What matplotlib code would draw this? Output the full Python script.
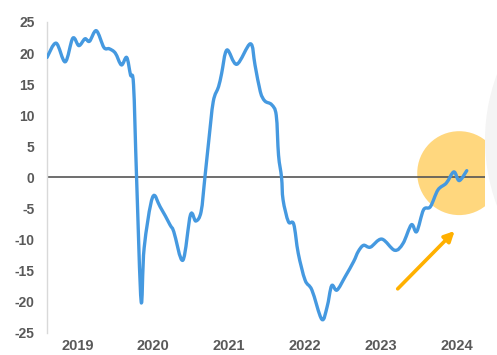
import matplotlib

matplotlib.use("Agg")
import matplotlib.pyplot as plt
from matplotlib.patches import Ellipse, PathPatch
from matplotlib.path import Path

# series (x in decimal years)
years = [
    2019.10, 2019.22, 2019.34, 2019.44, 2019.52, 2019.60, 2019.66, 2019.75,
    2019.85, 2019.92, 2020.00, 2020.08, 2020.15, 2020.20, 2020.24, 2020.28,
    2020.34, 2020.38, 2020.49, 2020.59, 2020.72, 2020.77, 2020.89, 2020.99,
    2021.06, 2021.13, 2021.18, 2021.23, 2021.29, 2021.36, 2021.40, 2021.47,
    2021.60, 2021.78, 2021.84, 2021.91, 2021.97, 2022.06, 2022.12, 2022.15,
    2022.19, 2022.21, 2022.28, 2022.35, 2022.41, 2022.50, 2022.59, 2022.72,
    2022.79, 2022.85, 2022.92, 2023.03, 2023.14, 2023.20, 2023.27, 2023.36,
    2023.51, 2023.68, 2023.79, 2023.90, 2023.97, 2024.06, 2024.15, 2024.25,
    2024.36, 2024.46, 2024.53, 2024.63,
]
values = [
    19.3, 21.6, 18.6, 22.4, 21.2, 22.3, 21.9, 23.6,
    20.9, 20.7, 20.0, 18.1, 19.3, 16.5, 14.9, 0.0,
    -19.9, -11.3, -3.2, -4.7, -7.6, -8.7, -13.3, -6.0,
    -7.0, -5.5, 0.0, 5.8, 12.2, 14.6, 16.7, 20.5,
    18.2, 21.5, 18.1, 13.8, 12.3, 11.7, 10.0, 3.6,
    0.0, -3.6, -7.1, -7.5, -12.2, -16.5, -18.1, -22.8,
    -20.8, -17.4, -18.1, -15.9, -13.5, -11.9, -10.9, -11.2,
    -9.9, -11.7, -10.6, -7.6, -8.7, -5.2, -4.7, -2.0,
    -0.9, 0.9, -0.5, 1.1,
]
year_labels = ["2019", "2020", "2021", "2022", "2023", "2024"]
y_ticks = [25, 20, 15, 10, 5, 0, -5, -10, -15, -20, -25]

BLUE = "#4599e0"
TEXT = "#595959"
HIGHLIGHT = "#ffd77e"
ARROW = "#ffb000"


def smooth_path(xs, ys, k=1 / 6):
    """Excel-style smoothed line as cubic Bezier segments through the points."""
    verts = [(xs[0], ys[0])]
    codes = [Path.MOVETO]
    n = len(xs)
    for i in range(n - 1):
        x0, y0 = (xs[i - 1], ys[i - 1]) if i > 0 else (xs[i], ys[i])
        x3, y3 = (xs[i + 2], ys[i + 2]) if i + 2 < n else (xs[i + 1], ys[i + 1])
        c1 = (xs[i] + (xs[i + 1] - x0) * k, ys[i] + (ys[i + 1] - y0) * k)
        c2 = (xs[i + 1] - (x3 - xs[i]) * k, ys[i + 1] - (y3 - ys[i]) * k)
        verts += [c1, c2, (xs[i + 1], ys[i + 1])]
        codes += [Path.CURVE4] * 3
    return Path(verts, codes)


plt.rcParams["font.family"] = ["Liberation Sans", "DejaVu Sans"]

fig = plt.figure(figsize=(4.97, 3.55), dpi=100)
# faint grey disc peeking in at the right edge
fig.add_artist(Ellipse((700 / 497, 215 / 355), 430 / 497, 400 / 355,
                       transform=fig.transFigure, facecolor="#f4f4f4",
                       edgecolor="none", zorder=0))

ax = fig.add_axes([47 / 497, 22 / 355, 438 / 497, 311 / 355])
ax.patch.set_alpha(0)

# highlighted latest reading
ax.scatter([years[-2]], [0.7], s=3650, color=HIGHLIGHT, edgecolors="none", zorder=1)
ax.axhline(0, color="#555555", lw=1.2, zorder=2)
ax.add_patch(PathPatch(smooth_path(years, values), facecolor="none",
                       edgecolor=BLUE, lw=2.4, joinstyle="round",
                       capstyle="round", zorder=3))
ax.annotate("", xy=(2024.47, -8.6), xytext=(2023.72, -17.9),
            arrowprops=dict(arrowstyle="-|>", color=ARROW, lw=2.6,
                            mutation_scale=15, shrinkA=0, shrinkB=0),
            zorder=4)

ax.set_xlim(years[0], 2024.87)
ax.set_ylim(-25, 25)
ax.set_yticks(y_ticks)
ax.set_yticklabels([str(v) for v in y_ticks])
ax.set_xticks([int(y) + 0.5 for y in year_labels])
ax.set_xticklabels(year_labels)
ax.tick_params(axis="y", length=0, pad=9, labelsize=10, labelcolor=TEXT)
ax.tick_params(axis="x", length=0, pad=4, labelsize=10.5, labelcolor=TEXT)
for lab in ax.get_xticklabels() + ax.get_yticklabels():
    lab.set_fontweight("bold")

for side in ("top", "right", "bottom"):
    ax.spines[side].set_visible(False)
ax.spines["left"].set_color("#d9d9d9")
ax.spines["left"].set_linewidth(1.0)

fig.savefig("out.png", dpi=100)
